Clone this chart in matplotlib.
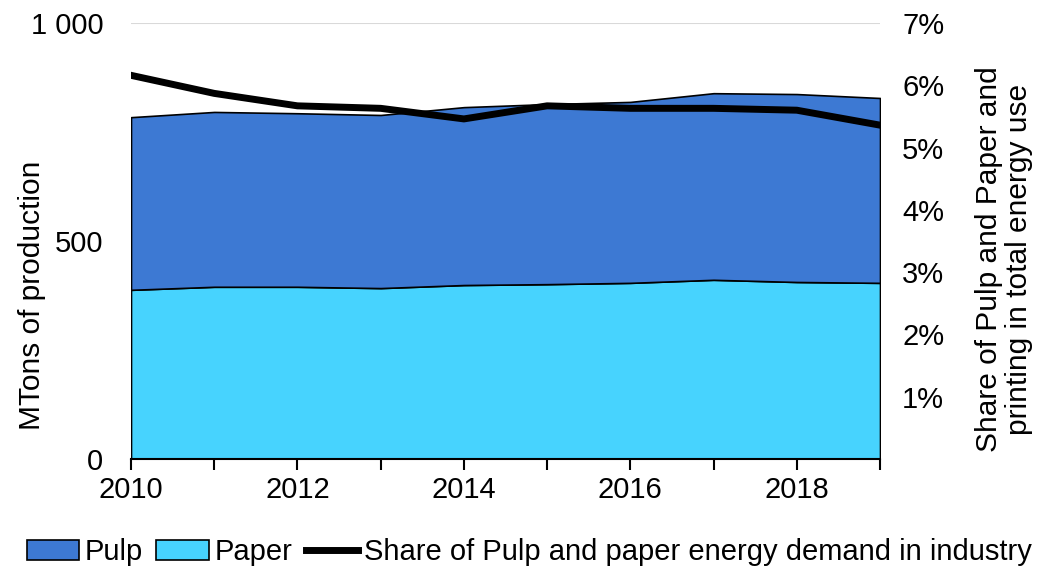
import numpy as np
import matplotlib.pyplot as plt

plt.rcParams['font.family'] = ['Liberation Sans', 'DejaVu Sans']

years = [2010, 2011, 2012, 2013, 2014, 2015, 2016, 2017, 2018, 2019]
paper = [388, 395, 395, 392, 399, 401, 404, 411, 406, 404]
total = [784, 796, 793, 789, 807, 814, 819, 839, 837, 828]
pulp = [t - p for t, p in zip(total, paper)]
share = [6.16, 5.87, 5.67, 5.63, 5.46, 5.67, 5.63, 5.63, 5.60, 5.36]

fs = 21
fs_v = 21.5
W, H = 1038, 569
fig = plt.figure(figsize=(W / 100, H / 100), dpi=100)
ax = fig.add_axes([131/W, 1 - 459/H, (880 - 131)/W, (459 - 23)/H])

ax.axhline(1000, color='#d9d9d9', lw=1.5, zorder=0)
stk = ax.stackplot(years, paper, pulp, colors=['#47d3fe', '#3d79d3'],
                   edgecolor='black', linewidth=1.2, labels=['Paper', 'Pulp'])
ax.set_xlim(2010, 2019)
ax.set_ylim(0, 1000)
ax.set_yticks([0, 500, 1000])
ax.set_yticklabels(['0', '500', '1 000'])
ax.set_xticks(years)
ax.set_xticklabels([str(y) if y % 2 == 0 else '' for y in years])
ax.tick_params(axis='x', direction='out', length=8, width=1.5, labelsize=fs, pad=4)
ax.tick_params(axis='y', length=0, labelsize=fs, pad=20)
for s in ['top', 'right', 'left']:
    ax.spines[s].set_visible(False)
ax.spines['bottom'].set_linewidth(1.5)

ax2 = ax.twinx()
line, = ax2.plot(years, share, color='black', lw=5,
                 label='Share of Pulp and paper energy demand in industry')
ax2.set_ylim(0, 7)
ax2.set_yticks([1, 2, 3, 4, 5, 6, 7])
ax2.set_yticklabels([f'{v}%' for v in range(1, 8)])
ax2.tick_params(axis='y', length=0, labelsize=fs, pad=16)
for s in ['top', 'right', 'left', 'bottom']:
    ax2.spines[s].set_visible(False)

# axis titles placed by pixel position
fig.text(32/W, 1 - 295/H, 'MTons of production', rotation=90,
         ha='center', va='center', fontsize=fs_v)
fig.text(1004/W, 1 - 259/H, 'Share of Pulp and Paper and\nprinting in total energy use',
         rotation=90, ha='center', va='center', fontsize=fs_v, linespacing=1.05)

handles = [stk[1], stk[0], line]
labels = ['Pulp', 'Paper', 'Share of Pulp and paper energy demand in industry']
fig.legend(handles, labels, loc='center', bbox_to_anchor=(0.51, 1 - 552/H),
           ncol=3, frameon=False, fontsize=fs, handlelength=1.8,
           handletextpad=0.2, columnspacing=0.45, borderpad=0)

fig.savefig('out.png', dpi=100)
